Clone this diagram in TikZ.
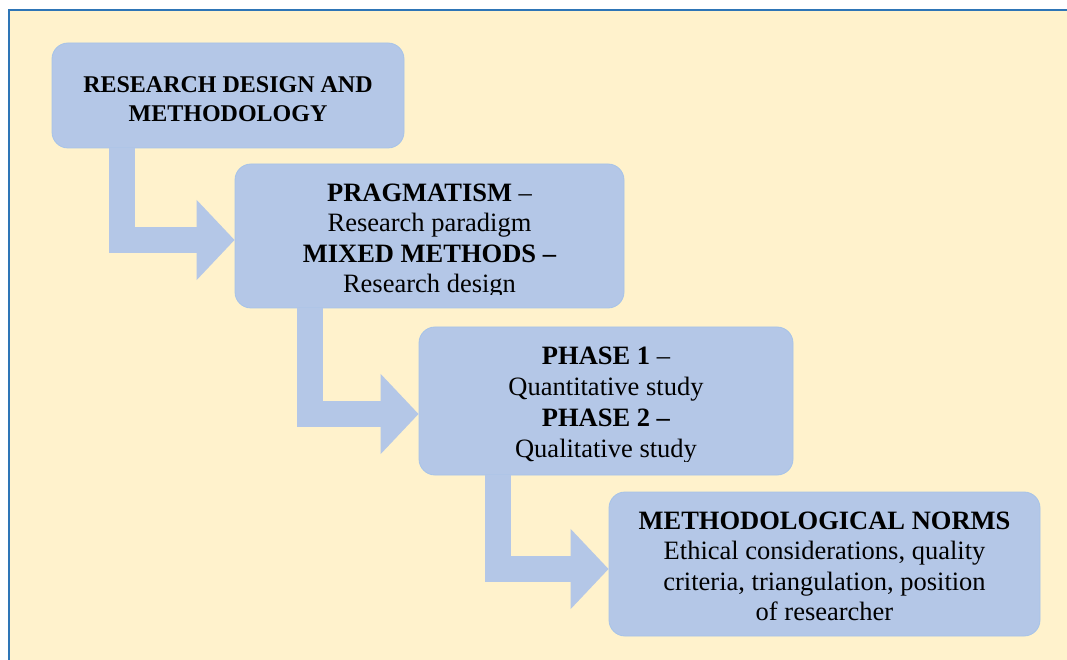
\documentclass[tikz,border=0pt]{standalone}
\usepackage{fontspec}
\setmainfont{Liberation Serif}
\usetikzlibrary{positioning,calc,arrows.meta}
\definecolor{pageyellow}{HTML}{FFF2CC}
\definecolor{frameblue}{HTML}{2E75B6}
\definecolor{stageblue}{HTML}{B4C7E7}
\definecolor{edgeblue}{HTML}{A6C3E8}

\tikzset{
	stage/.style={draw=edgeblue, fill=stageblue, rounded corners=16pt, line width=0.8pt, inner sep=0pt},
	stagetext/.style={align=center, anchor=base, inner sep=0pt, font=\fontsize{26.5}{30.5}\selectfont},
	flow/.style={draw=stageblue, line width=26pt, -{Triangle[length=38pt,width=78pt]}}
}

\begin{document}
\begin{tikzpicture}[x=1pt,y=1pt]
	\useasboundingbox (0,0) rectangle (1067,659);
	\clip (0,0) rectangle (1067,659);
	\fill[white] (0,0) rectangle (1067,659);
	\draw[frameblue, fill=pageyellow, line width=2pt] (9,-20) rectangle (1090,649);
	
	\node[stage, minimum width=352pt, minimum height=105pt] (res) at (228,563.5) {};
	\node[stage, minimum width=389pt, minimum height=144pt] (prag) at (429.5,423) {};
	\node[stage, minimum width=374pt, minimum height=148pt] (phase) at (606,258) {};
	\node[stage, minimum width=431pt, minimum height=144pt] (norms) at (824.5,95) {};
	
	\node[stagetext, font=\bfseries\fontsize{24}{29}\selectfont] (restext) at ([yshift=-79pt]res.north) {RESEARCH DESIGN AND\\METHODOLOGY};
	\begin{scope}
		\clip ([yshift=14pt]prag.south west) rectangle (prag.north east);
		\node[stagetext] (pragtext) at ([yshift=-129pt]prag.north) {\textbf{PRAGMATISM} --\\Research paradigm\\\textbf{MIXED METHODS --}\\Research design};
	\end{scope}
	\begin{scope}
		\clip ([yshift=14pt]phase.south west) rectangle (phase.north east);
		\node[stagetext, font=\fontsize{26.5}{31}\selectfont] (phasetext) at ([yshift=-131pt]phase.north) {\textbf{PHASE 1} --\\Quantitative study\\\textbf{PHASE 2 --}\\Qualitative study};
	\end{scope}
	\node[stagetext] (normstext) at ([yshift=-129pt]norms.north) {\textbf{METHODOLOGICAL NORMS}\\Ethical considerations, quality\\criteria, triangulation, position\\of researcher};
	
	\draw[flow] ([xshift=70.5pt]res.south west) |- ([yshift=-4pt]prag.west);
	\draw[flow] ([xshift=75.5pt]prag.south west) |- ([yshift=-13pt]phase.west);
	\draw[flow] ([xshift=79.5pt]phase.south west) |- ([yshift=-5pt]norms.west);
	
\end{tikzpicture}
\end{document}
